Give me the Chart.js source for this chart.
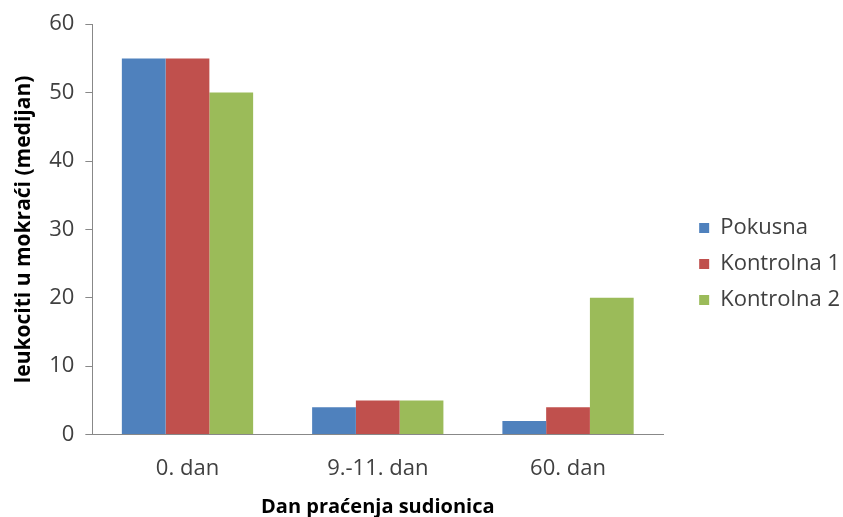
<!DOCTYPE html>
<html>
<head>
<meta charset="utf-8">
<script src="https://cdn.jsdelivr.net/npm/chart.js@4"></script>
<style>
  body { margin: 0; background: #fff; }
  #wrap { width: 843px; height: 517px; }
</style>
</head>
<body>
<div id="wrap"><canvas id="leukChart" width="843" height="517"></canvas></div>
<script>
const days = ['0. dan', '9.-11. dan', '60. dan'];
const pokusna = [55, 4, 2];
const kontrolna1 = [55, 5, 4];
const kontrolna2 = [50, 5, 20];
const yTicks = [0, 10, 20, 30, 40, 50, 60];

// widen the legend box and push its items to the right,
// leaving a gap between the plot and the legend like in Excel
const legendGap = {
  id: 'legendGap',
  beforeInit(chart) {
    const lg = chart.legend;
    const origFit = lg.fit;
    lg.fit = function () {
      origFit.call(this);
      this.width += 15;
    };
  },
  afterLayout(chart) {
    const lg = chart.legend;
    lg.left += 22;
    lg.right += 22;
    lg.top -= 5;
    lg.bottom -= 5;
  },
};

const ctx = document.getElementById('leukChart').getContext('2d');
const leukChart = new Chart(ctx, {
  type: 'bar',
  data: {
    labels: days,
    datasets: [
      { label: 'Pokusna', data: pokusna, backgroundColor: '#4F81BD' },
      { label: 'Kontrolna 1', data: kontrolna1, backgroundColor: '#C0504D' },
      { label: 'Kontrolna 2', data: kontrolna2, backgroundColor: '#9BBB59' },
    ],
  },
  plugins: [legendGap],
  options: {
    responsive: false,
    animation: false,
    layout: { padding: { left: 11, top: 21, right: 0, bottom: 0 } },
    datasets: {
      bar: { categoryPercentage: 0.69, barPercentage: 1.0 },
    },
    plugins: {
      tooltip: { enabled: false },
      legend: {
        position: 'right',
        labels: {
          boxWidth: 10,
          boxHeight: 10,
          padding: 14,
          color: '#404040',
          font: { family: 'Open Sans', size: 22 },
        },
      },
    },
    scales: {
      x: {
        grid: {
          display: true, drawOnChartArea: false, drawTicks: true,
          tickLength: 18, tickColor: 'rgba(0,0,0,0)', color: '#888',
        },
        border: { color: '#888' },
        ticks: { color: '#404040', padding: 3, font: { family: 'Open Sans', size: 22 } },
        title: {
          display: true,
          text: 'Dan praćenja sudionica',
          color: '#000',
          padding: { top: 12, bottom: 0 },
          font: { family: 'Open Sans', size: 20, weight: 'bold', lineHeight: 1 },
        },
      },
      y: {
        min: 0,
        max: 60,
        afterBuildTicks: axis => { axis.ticks = yTicks.map(v => ({ value: v })); },
        grid: { display: true, drawOnChartArea: false, tickLength: 7, color: '#888' },
        border: { color: '#888' },
        ticks: { color: '#404040', padding: 11, font: { family: 'Open Sans', size: 22 } },
        title: {
          display: true,
          text: 'leukociti u mokraći (medijan)',
          color: '#000',
          padding: { top: 0, bottom: 2 },
          font: { family: 'Open Sans', size: 21, weight: 'bold' },
        },
      },
    },
  },
});
</script>
</body>
</html>
